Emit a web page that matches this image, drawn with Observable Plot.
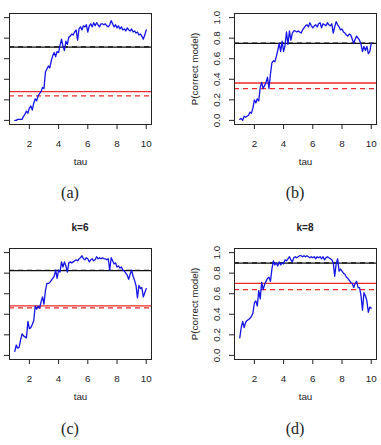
<!DOCTYPE html>
<html><head><meta charset="utf-8">
<script src="https://cdn.jsdelivr.net/npm/d3@7"></script>
<script src="https://cdn.jsdelivr.net/npm/@observablehq/plot@0.6"></script>
<style>
body{margin:0;background:#fff;}
#wrap{position:relative;width:381px;height:445px;overflow:hidden;font-family:"Liberation Sans",Arial,sans-serif;}
.panel{position:absolute;}
.title{position:absolute;font-weight:bold;font-size:10px;color:#222;transform:translate(-50%,-50%);white-space:nowrap;}
.cap{position:absolute;font-family:"Liberation Serif","DejaVu Serif",serif;font-size:16px;color:#222;transform:translate(-50%,-50%);white-space:nowrap;}
</style></head><body><div id="wrap"></div>
<script>
const tau = [1.0,1.1,1.2,1.3,1.4,1.5,1.6,1.7,1.8,1.9,2.0,2.1,2.2,2.3,2.4,2.5,2.6,2.7,2.8,2.9,3.0,3.1,3.2,3.3,3.4,3.5,3.6,3.7,3.8,3.9,4.0,4.1,4.2,4.3,4.4,4.5,4.6,4.7,4.8,4.9,5.0,5.1,5.2,5.3,5.4,5.5,5.6,5.7,5.8,5.9,6.0,6.1,6.2,6.3,6.4,6.5,6.6,6.7,6.8,6.9,7.0,7.1,7.2,7.3,7.4,7.5,7.6,7.7,7.8,7.9,8.0,8.1,8.2,8.3,8.4,8.5,8.6,8.7,8.8,8.9,9.0,9.1,9.2,9.3,9.4,9.5,9.6,9.7,9.8,9.9,10.0];

const pA = [0.00,0.00,0.01,0.01,0.01,0.01,0.04,0.06,0.09,0.07,0.12,0.14,0.10,0.17,0.21,0.19,0.24,0.26,0.28,0.32,0.31,0.47,0.50,0.53,0.51,0.58,0.63,0.66,0.62,0.67,0.66,0.73,0.79,0.72,0.68,0.77,0.74,0.81,0.82,0.84,0.83,0.86,0.88,0.78,0.89,0.91,0.88,0.92,0.91,0.93,0.86,0.92,0.94,0.91,0.95,0.92,0.95,0.93,0.91,0.94,0.94,0.93,0.94,0.92,0.91,0.93,0.97,0.94,0.91,0.93,0.90,0.92,0.89,0.91,0.88,0.89,0.87,0.90,0.88,0.87,0.89,0.86,0.87,0.85,0.86,0.83,0.84,0.82,0.79,0.83,0.88];

const pB = [0.01,0.02,0.00,0.04,0.03,0.04,0.05,0.08,0.07,0.12,0.20,0.17,0.21,0.19,0.32,0.37,0.31,0.34,0.37,0.42,0.31,0.45,0.56,0.58,0.57,0.62,0.68,0.75,0.67,0.77,0.67,0.73,0.86,0.74,0.87,0.78,0.85,0.87,0.87,0.86,0.87,0.86,0.85,0.88,0.90,0.92,0.93,0.91,0.95,0.92,0.90,0.92,0.93,0.91,0.94,0.95,0.90,0.94,0.93,0.92,0.95,0.93,0.92,0.94,0.85,0.91,0.96,0.93,0.91,0.88,0.89,0.86,0.85,0.83,0.82,0.84,0.83,0.79,0.75,0.79,0.82,0.80,0.78,0.74,0.67,0.72,0.68,0.72,0.65,0.67,0.75];

const pC = [0.04,0.10,0.07,0.08,0.15,0.21,0.19,0.18,0.17,0.33,0.26,0.27,0.30,0.34,0.48,0.45,0.48,0.46,0.52,0.57,0.50,0.63,0.70,0.70,0.71,0.73,0.75,0.77,0.83,0.75,0.83,0.81,0.91,0.86,0.91,0.87,0.81,0.90,0.91,0.90,0.91,0.92,0.93,0.92,0.94,0.95,0.97,0.94,0.93,0.95,0.94,0.91,0.93,0.94,0.92,0.93,0.96,0.94,0.95,0.94,0.95,0.94,0.94,0.93,0.94,0.83,0.95,0.92,0.89,0.90,0.86,0.87,0.85,0.86,0.83,0.82,0.80,0.78,0.74,0.79,0.83,0.77,0.73,0.68,0.56,0.68,0.65,0.66,0.57,0.61,0.65];

const pD = [0.17,0.27,0.33,0.27,0.32,0.34,0.35,0.36,0.38,0.41,0.51,0.53,0.48,0.63,0.55,0.71,0.64,0.69,0.72,0.75,0.76,0.72,0.84,0.92,0.88,0.90,0.87,0.91,0.88,0.90,0.89,0.93,0.92,0.94,0.96,0.93,0.91,0.95,0.96,0.95,0.96,0.97,0.97,0.96,0.97,0.96,0.97,0.96,0.95,0.96,0.95,0.96,0.94,0.96,0.95,0.96,0.94,0.96,0.93,0.95,0.96,0.95,0.94,0.93,0.90,0.77,0.89,0.94,0.82,0.84,0.82,0.80,0.79,0.76,0.75,0.73,0.71,0.70,0.66,0.70,0.72,0.66,0.66,0.58,0.44,0.61,0.58,0.53,0.42,0.47,0.46];

const blackSolid = [0.713, 0.749, 0.825, 0.897];
const blackDashed = [0.716, 0.752, 0.828, 0.900];
const redSolid = [0.280, 0.364, 0.482, 0.700];
const redDashed = [0.238, 0.309, 0.463, 0.640];
const panelTitles = ["", "", "k=6", "k=8"];
const captions = ["(a)", "(b)", "(c)", "(d)"];
const xTicks = [2, 4, 6, 8, 10];
const yTicks = [0, 0.2, 0.4, 0.6, 0.8, 1.0];
const xLabel = "tau";
const yLabel = "P(correct model)";

const series = [pA, pB, pC, pD];
const showYText = [false, true, false, true];
// layout positions (pixels)
const svgLeft = [-35, 190, -35, 190];
const svgTop = [0, 0, 235, 235];
const titlePos = [null, null, [80, 227], [305, 227]];
const capPos = [[70, 193], [295, 193], [70, 429], [295, 429]];

const wrap = document.getElementById("wrap");

function panel(i) {
  const data = tau.map((t, j) => ({tau: t, p: series[i][j]}));
  return Plot.plot({
    width: 191, height: 176,
    marginLeft: 44, marginRight: 5, marginTop: 13, marginBottom: 52,
    style: {fontFamily: "'Liberation Sans', Arial, sans-serif", fontSize: "9.8px", color: "#222", background: "transparent", overflow: "visible"},
    x: {domain: [0.64, 10.36]},
    y: {domain: [-0.04, 1.04]},
    marks: [
      Plot.ruleY([blackSolid[i]], {stroke: "#111", strokeWidth: 1.3}),
      Plot.ruleY([blackDashed[i]], {stroke: "#111", strokeWidth: 1.3, strokeDasharray: "5,4"}),
      Plot.ruleY([redSolid[i]], {stroke: "#ee2a2a", strokeWidth: 1.3}),
      Plot.ruleY([redDashed[i]], {stroke: "#ee2a2a", strokeWidth: 1.3, strokeDasharray: "5,4"}),
      Plot.line(data, {x: "tau", y: "p", stroke: "#1414e6", strokeWidth: 1.3}),
      Plot.frame({stroke: "#222", strokeWidth: 1}),
      Plot.axisX(xTicks, {tickSize: 5, tickPadding: 11, label: xLabel, labelAnchor: "center", labelArrow: "none", labelOffset: 40}),
      Plot.axisY(yTicks, {tickSize: 5, tickPadding: 10, tickRotate: -90,
        tickFormat: showYText[i] ? d3.format(".1f") : () => "",
        label: showYText[i] ? yLabel : null, labelAnchor: "center", labelArrow: "none", labelOffset: 43})
    ]
  });
}

for (let i = 0; i < 4; i++) {
  const svg = panel(i);
  svg.classList.add("panel");
  svg.style.left = svgLeft[i] + "px";
  svg.style.top = svgTop[i] + "px";
  wrap.appendChild(svg);
  if (titlePos[i]) {
    const t = document.createElement("div");
    t.className = "title";
    t.textContent = panelTitles[i];
    t.style.left = titlePos[i][0] + "px";
    t.style.top = titlePos[i][1] + "px";
    wrap.appendChild(t);
  }
  const c = document.createElement("div");
  c.className = "cap";
  c.textContent = captions[i];
  c.style.left = capPos[i][0] + "px";
  c.style.top = capPos[i][1] + "px";
  wrap.appendChild(c);
}
</script>
</body></html>
